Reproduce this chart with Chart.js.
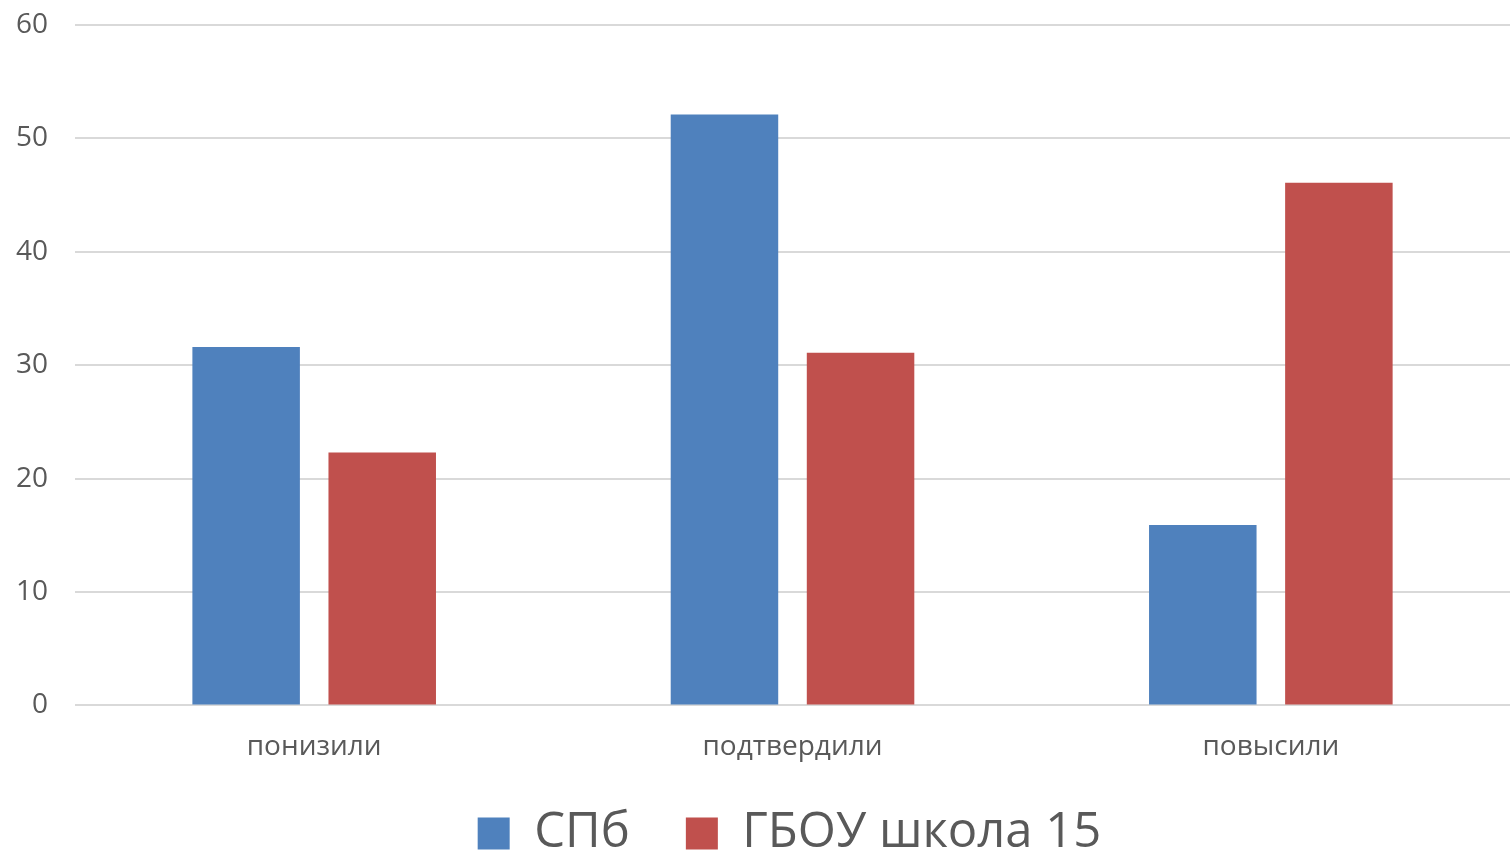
<!DOCTYPE html>
<html>
<head>
<meta charset="utf-8">
<script src="https://cdn.jsdelivr.net/npm/chart.js@4"></script>
<style>
  html, body { margin: 0; padding: 0; background: #fff; }
  #wrap { width: 1510px; height: 858px; }
</style>
</head>
<body>
<div id="wrap"><canvas id="chartResultados"></canvas></div>
<script>
const categorias = ['понизили', 'подтвердили', 'повысили'];
const valoresSpb = [31.6, 52.1, 15.9];
const valoresEscola = [22.3, 31.1, 46.1];
const ticksY = [0, 10, 20, 30, 40, 50, 60];

const cinza = '#595959';
const cortaLegenda = 34;

// legenda mais baixa e centrada sobre a área do gráfico
const legendaNoPlot = {
  id: 'legendaNoPlot',
  afterInit(chart) {
    const lg = chart.legend;
    const fitOrig = lg.fit.bind(lg);
    lg.fit = function () { fitOrig(); this.height -= cortaLegenda; };
  },
  afterLayout(chart) {
    const lg = chart.legend;
    const desloc = (chart.chartArea.left + chart.chartArea.right) / 2 - (lg.left + lg.right) / 2 - 3;
    lg.left += desloc;
    lg.right += desloc;
    lg.top -= cortaLegenda + 2;
  }
};

const ctx = document.getElementById('chartResultados').getContext('2d');
new Chart(ctx, {
  type: 'bar',
  data: {
    labels: categorias,
    datasets: [{
      label: 'СПб',
      data: valoresSpb,
      backgroundColor: '#4f81bd'
    }, {
      label: 'ГБОУ школа 15',
      data: valoresEscola,
      backgroundColor: '#c0504d'
    }]
  },
  options: {
    responsive: true,
    maintainAspectRatio: false,
    animation: false,
    categoryPercentage: 0.569,
    barPercentage: 0.79,
    layout: { padding: { top: 0, right: 0, left: -11, bottom: -12 } },
    scales: {
      x: {
        grid: { display: false, drawTicks: false },
        border: { display: false },
        ticks: { color: cinza, font: { family: 'Open Sans', size: 28 }, padding: 25 }
      },
      y: {
        min: 0,
        max: 60,
        afterBuildTicks: (axis) => { axis.ticks = ticksY.map(v => ({ value: v })); },
        afterFit: (scale) => { scale.paddingTop = 25; scale.paddingBottom = 0; },
        grid: { color: '#d9d9d9', lineWidth: 2, drawTicks: false },
        border: { display: false },
        ticks: { color: cinza, font: { family: 'Open Sans', size: 28 }, padding: 27 }
      }
    },
    plugins: {
      legend: {
        position: 'bottom',
        labels: {
          color: cinza,
          font: { family: 'Open Sans', size: 49 },
          boxWidth: 32,
          boxHeight: 32,
          padding: 56
        }
      },
      tooltip: { enabled: false }
    }
  },
  plugins: [legendaNoPlot]
});
</script>
</body>
</html>
